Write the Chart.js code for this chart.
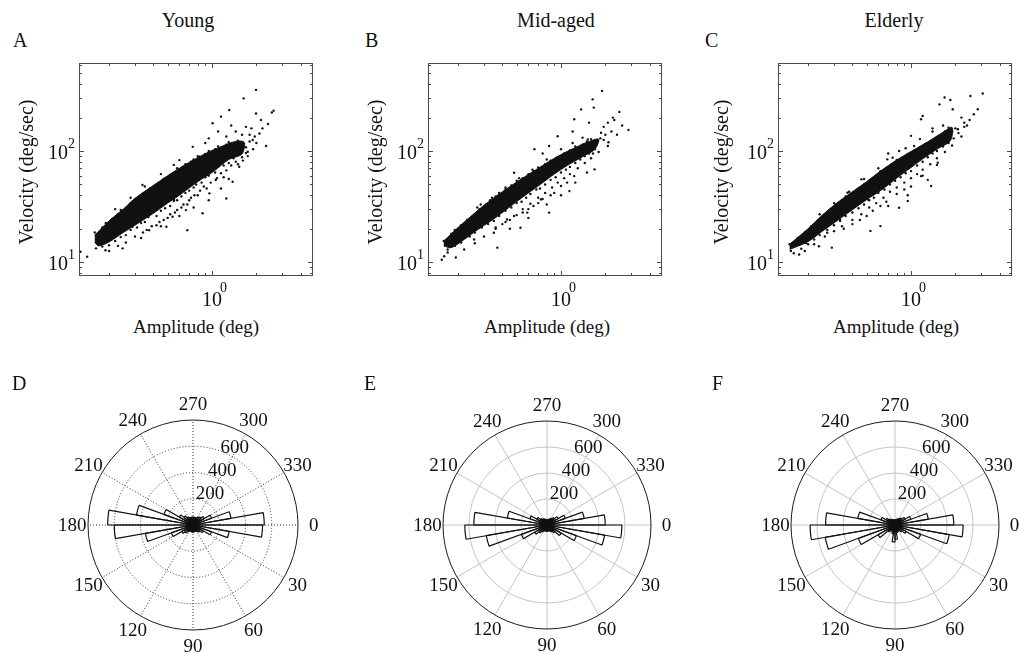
<!DOCTYPE html>
<html>
<head>
<meta charset="utf-8">
<script src="https://cdn.jsdelivr.net/npm/chart.js@4/dist/chart.umd.min.js"></script>
<style>
  html, body { margin: 0; padding: 0; background: #fff; overflow: hidden; }
  #fig { position: relative; width: 1026px; height: 653px; overflow: hidden;
         font-family: "Liberation Serif", "Times New Roman", Times, serif; color: #111; }
  #fig canvas { position: absolute; }
  .lbl { position: absolute; white-space: nowrap; font-size: 20px; line-height: 20px; }
</style>
</head>
<body>
<div id="fig"></div>
<script>
// ---------- saccade main sequence: amplitude (deg) vs peak velocity (deg/sec) ----------
const groups = ['Young', 'Mid-aged', 'Elderly'];
const scatterLetters = ['A', 'B', 'C'];
const roseLetters = ['D', 'E', 'F'];

// dense centre of each cloud (outline: upper edge, then lower edge back)
const youngCoreAmp = [0.16, 0.2, 0.25, 0.3, 0.4, 0.5, 0.6, 0.7, 0.85, 1.0, 1.2, 1.45, 1.65, 1.6, 1.3, 1.0, 0.8, 0.6, 0.5, 0.4, 0.3, 0.25, 0.2, 0.17, 0.16];
const youngCoreVel = [17.5, 23.5, 30, 37.5, 49, 60, 70, 79, 91, 101, 112, 122, 120, 94, 84, 64, 53, 40, 34, 27.5, 21.5, 18.5, 15.2, 14, 15];
const midCoreAmp = [0.16, 0.2, 0.25, 0.3, 0.4, 0.5, 0.6, 0.75, 0.9, 1.1, 1.3, 1.5, 1.8, 1.7, 1.4, 1.1, 0.9, 0.7, 0.55, 0.45, 0.35, 0.27, 0.22, 0.18, 0.16];
const midCoreVel = [15.5, 20.5, 26.5, 32.5, 43, 52.5, 61.5, 74, 86, 99, 110, 120, 128, 104, 89, 74, 62, 48.5, 38.5, 31.5, 24.5, 19.5, 16, 13.5, 14];
const eldCoreAmp = [0.15, 0.2, 0.25, 0.3, 0.37, 0.5, 0.62, 0.8, 1.0, 1.3, 1.6, 1.9, 1.85, 1.5, 1.2, 1.0, 0.8, 0.62, 0.5, 0.37, 0.3, 0.25, 0.2, 0.15];
const eldCoreVel = [14.5, 20, 26.5, 32.5, 40, 53, 66, 83, 99, 121, 144, 163, 124, 104, 85, 71, 57, 44, 36.5, 27.5, 22.5, 19, 15.3, 13];

// individual saccades [amplitude, velocity]
const youngDots = [
  [1.99,355],[1.64,298],[2.62,231],[2.55,222],[1.99,218],[1.31,234],[1.15,204],[1.01,178],[2.15,190],[1.70,165],
  [2.33,111],[1.75,98.6],[2.10,144],[1.25,37.4],[0.68,19.4],[0.405,48.4],[0.337,49.4],[0.74,109],[0.142,11.2],[0.128,12.4],
  [0.163,13.3],[0.171,15.8],[0.189,12.8],[0.247,13.3],[0.60,82.9],[0.82,88.8],[0.863,27.5],[0.665,29.4],[0.54,25.6],[0.49,20.8],
  [0.374,19.4],[0.288,20.8],[1.38,52.9],[1.53,72.2],[1.06,54.8],[0.96,41.6],[0.553,36.2],[0.416,29.4],[1.89,125.6],[1.38,88.9],
  [0.91,72.2],[0.60,58.7],[1.45,150],[1.6,140],[1.85,160],[1.95,135],[2.0,118],[1.25,135],[1.1,150],[0.95,130],
  [0.9,118],[0.55,75],[0.45,62],[0.35,48],[0.28,38],[0.22,30],
  [0.16,18.5],[0.18,20.5],[0.19,22.5],[0.21,24.5],[0.23,27],[0.24,29.5],[0.27,31.5],[0.28,34],[0.32,38],[0.34,41.5],
  [0.36,42],[0.38,46],[0.42,50],[0.45,52],[0.47,56],[0.52,61],[0.55,63],[0.58,70],[0.63,72],[0.66,76],
  [0.72,80],[0.75,84],[0.8,90],[0.9,94],[0.95,100],[1.05,104],[1.1,110],[1.25,114],[1.3,120],[1.5,124],
  [1.55,112],[1.65,116],[1.7,108],[1.8,122],[1.9,104],
  [0.18,13.8],[0.2,14.2],[0.22,15.5],[0.24,16.8],[0.26,17.5],[0.28,19.5],[0.31,20.5],[0.33,22.5],[0.35,23],[0.37,25.5],
  [0.42,26],[0.45,29],[0.48,30.5],[0.52,32],[0.55,35.5],[0.58,36],[0.62,39],[0.66,42],[0.7,44],[0.75,47],
  [0.78,50],[0.85,52],[0.9,58],[0.95,60],[1.05,64],[1.1,72],[1.2,74],[1.3,78],[1.4,86],[1.45,80],
  [1.6,88],[1.7,96],[1.75,90],[0.34,18.5],[0.44,23],[0.56,28],[0.68,33],[0.8,40],[0.92,46],[1.2,58],
  [0.39,21],[0.62,31],[0.5,25],[0.72,38],
  [0.3,17],[0.36,19.5],[0.42,21.5],[0.47,24],[0.52,27],[0.58,29.5],[0.64,33],[0.7,36],[0.76,40],[0.83,44],
  [0.88,48],[0.98,52],[1.08,57],[1.15,63],[1.25,67],[1.35,74],[1.5,76],[1.62,82],[0.26,15],[0.23,14],
  [0.2,12.6],[0.33,16.5],[0.45,21],[0.6,26],[0.75,31],[0.95,36],[1.15,46],[1.3,56],[1.8,140],[2.2,160],
  [2.4,175],[1.35,170]
];
const midDots = [
  [1.90,347],[1.64,292],[1.67,246],[2.49,225],[2.87,155],[1.37,237],[1.23,193],[0.95,136],[0.66,104],[0.83,111],
  [1.69,68.4],[1.23,59.5],[1.14,43.6],[0.83,27.9],[0.53,20.4],[0.37,13.5],[0.285,33],[0.161,11.3],[0.193,11],[0.17,12.2],
  [2.25,200],[2.08,180],[1.87,146],[1.52,127],[1.0,48.4],[0.73,36.7],[0.59,27.9],[0.43,24.2],[0.35,18.4],[0.257,16],
  [0.22,18.4],[0.53,48.4],[0.48,63.8],[0.37,39.3],[0.9,73.2],[1.37,90.2],[2.08,111],[1.55,180],[1.2,150],[0.75,95],
  [1.65,95],[2.3,190],[1.95,165],[0.155,10.5],
  [0.16,15.5],[0.18,18],[0.19,19.5],[0.21,21.5],[0.23,24],[0.26,27],[0.28,30],[0.31,33],[0.33,36],[0.36,39],
  [0.38,42],[0.42,45],[0.46,49],[0.5,54],[0.55,57],[0.6,62],[0.65,66],[0.7,71],[0.78,76],[0.85,82],
  [0.95,88],[1.05,95],[1.15,101],[1.25,110],[1.4,114],[1.5,122],[1.6,128],[1.75,120],[1.85,130],[2.0,140],
  [2.2,150],[1.95,126],
  [0.17,13],[0.19,14],[0.21,15],[0.24,17],[0.26,18.5],[0.29,20.5],[0.32,22],[0.35,23.5],[0.38,26],[0.42,29],
  [0.46,31],[0.5,34],[0.54,35],[0.58,38],[0.62,41],[0.68,45],[0.72,46],[0.78,50],[0.85,55],[0.92,58],
  [1.0,64],[1.08,68],[1.15,72],[1.25,78],[1.35,84],[1.45,90],[1.55,95],[1.7,104],[0.36,20],[0.45,24],
  [0.55,28],[0.65,32],[0.75,37],[0.9,42],[1.1,52],[0.4,22],[0.6,30],[0.5,26.5],[0.85,40],[0.7,34],
  [0.3,17],[0.36,20.5],[0.42,23],[0.48,26],[0.55,30],[0.62,33.5],[0.7,38],[0.78,42],[0.87,47],[0.95,52],
  [1.05,57],[1.15,62],[1.3,70],[1.45,78],[1.6,86],[1.8,98],[0.26,14.8],[0.22,13],[0.45,20],[0.6,25],
  [0.8,33],[1.0,40],[1.25,52],[1.5,64],[0.27,31],[0.34,38],[0.42,47],[0.52,57],[0.64,68],[0.8,84],
  [1.0,104],[1.2,118],[1.4,132],[2.1,120],[2.4,140],[2.6,170]
];
const eldDots = [
  [3.07,329],[2.53,313],[1.69,303],[1.85,288],[1.56,263],[1.92,238],[2.84,238],[2.67,214],[1.20,207],[1.17,193],
  [1.0,137],[0.83,100],[1.52,78.6],[0.95,35.5],[0.83,30.9],[0.62,21.1],[0.53,19.1],[0.29,13.5],[0.237,13.9],[0.153,12.6],
  [0.174,11.7],[0.194,14.9],[2.08,157],[2.30,180],[1.44,107],[1.05,84],[0.77,64],[0.62,48.4],[0.51,36.7],[0.41,32],
  [0.33,24.2],[0.27,18.4],[0.37,42.2],[0.46,55.6],[0.69,84.2],[1.05,111],[1.78,127],[1.37,48.4],[1.17,59.5],[2.2,200],
  [1.4,160],[0.7,95],[2.4,170],
  [0.15,14.5],[0.17,16.5],[0.19,18.5],[0.21,21],[0.23,23.5],[0.26,27],[0.28,29.5],[0.31,33],[0.34,36],[0.36,39],
  [0.4,42],[0.44,46],[0.48,50],[0.52,54],[0.57,59],[0.62,66],[0.68,70],[0.74,76],[0.8,83],[0.88,88],
  [0.95,94],[1.05,100],[1.15,108],[1.25,116],[1.35,122],[1.45,130],[1.55,136],[1.7,150],[1.8,162],[1.9,150],
  [2.0,160],[2.1,145],[1.75,138],
  [0.16,12],[0.18,13.2],[0.2,14.5],[0.22,16],[0.24,17.5],[0.27,19.5],[0.3,21.5],[0.33,23.5],[0.36,26],[0.4,28],
  [0.44,30.5],[0.48,33],[0.52,36],[0.56,38],[0.6,42],[0.66,45],[0.72,50],[0.78,54],[0.85,58],[0.92,63],
  [1.0,66],[1.1,74],[1.2,80],[1.3,88],[1.4,95],[1.5,100],[1.65,110],[1.8,118],[1.95,130],[0.35,20],
  [0.45,24],[0.55,29],[0.68,35],[0.8,41],[1.0,48],[1.2,60],[0.4,22],[0.62,32],[0.9,45],[1.5,75],
  [0.26,17],[0.3,19],[0.34,21],[0.4,24],[0.46,27],[0.52,31],[0.58,34],[0.65,38],[0.72,43],[0.8,47],
  [0.9,52],[1.0,57],[1.1,62],[1.2,68],[1.35,76],[1.5,86],[1.7,98],[1.9,112],[0.22,14.5],[0.19,12.6],
  [0.5,26],[0.7,32],[0.95,40],[1.3,55],[0.24,27],[0.3,34],[0.38,43],[0.48,56],[0.6,70],[0.75,87],
  [0.92,106],[1.15,128],[1.4,150],[1.65,170],[2.3,165],[2.5,190],[2.2,135]
];

// log axis limits and ticks
const ampRange = [0.125, 4.85];
const velRange = [7.5, 620];
const ampMajor = [1];
const ampMinor = [0.2, 0.3, 0.4, 0.5, 0.6, 0.7, 0.8, 0.9, 2, 3, 4];
const velMajor = [10, 100];
const velMinor = [8, 9, 20, 30, 40, 50, 60, 70, 80, 90, 200, 300, 400, 500, 600];

// ---------- saccade direction histograms (counts per 10 deg bin) ----------
const binStarts = [0,10,20,30,40,50,60,70,80,90,100,110,120,130,140,150,160,170,180,190,200,210,220,230,240,250,260,270,280,290,300,310,320,330,340,350];
const youngDir = [530,280,150,90,70,60,50,50,55,55,50,50,60,80,100,175,368,600,650,437,236,120,90,70,60,60,60,60,60,60,70,80,100,150,294,543];
const midDir   = [576,450,240,125,80,60,50,45,50,50,45,50,60,80,110,210,474,632,563,310,140,90,65,55,50,45,40,40,45,50,60,75,100,150,290,448];
const eldDir   = [524,423,210,100,70,55,50,60,110,130,70,50,55,70,150,300,545,653,534,290,115,80,60,50,45,40,40,40,45,50,60,70,90,130,260,452];
const roseMax = 800;
const ringTicks = [200, 400, 600];
const spokeAngles = [0, 30, 60, 90, 120, 150, 180, 210, 240, 270, 300, 330];

const FONT = '"Liberation Serif", "Times New Roman", Times, serif';
const fig = document.getElementById('fig');

function addLabel(text, x, baseline, opts = {}) {
  const d = document.createElement('div');
  d.className = 'lbl';
  d.textContent = text;
  const size = opts.size || 20;
  d.style.fontSize = size + 'px';
  d.style.lineHeight = size + 'px';
  d.style.left = x + 'px';
  if (opts.rotate) {
    d.style.top = baseline + 'px';
    d.style.transform = 'translate(-50%, -50%) rotate(-90deg)';
  } else {
    d.style.top = (baseline - 0.8375 * size) + 'px';
    if (opts.center) d.style.transform = 'translateX(-50%)';
  }
  fig.appendChild(d);
}

function addCanvas(left, top, w, h) {
  const c = document.createElement('canvas');
  c.width = w; c.height = h;
  c.style.left = left + 'px'; c.style.top = top + 'px';
  c.style.width = w + 'px'; c.style.height = h + 'px';
  fig.appendChild(c);
  return c;
}

// frame, inward ticks and power-of-ten labels of a log-log panel
const logFrame = {
  id: 'logFrame',
  afterDatasetsDraw(chart) {
    const { ctx, chartArea: a, scales: { x, y } } = chart;
    ctx.save();
    ctx.strokeStyle = '#4a4a4a';
    ctx.lineWidth = 1;
    ctx.strokeRect(a.left + 0.5, a.top + 0.5, a.right - a.left - 1, a.bottom - a.top - 1);
    ctx.beginPath();
    ampMinor.concat(ampMajor).forEach(v => {
      const px = Math.round(x.getPixelForValue(v)) + 0.5;
      const len = ampMajor.includes(v) ? 5 : 3;
      ctx.moveTo(px, a.bottom); ctx.lineTo(px, a.bottom - len);
      ctx.moveTo(px, a.top); ctx.lineTo(px, a.top + len);
    });
    velMinor.concat(velMajor).forEach(v => {
      const py = Math.round(y.getPixelForValue(v)) + 0.5;
      const len = velMajor.includes(v) ? 5 : 3;
      ctx.moveTo(a.left, py); ctx.lineTo(a.left + len, py);
      ctx.moveTo(a.right, py); ctx.lineTo(a.right - len, py);
    });
    ctx.stroke();
    ctx.fillStyle = '#111';
    ctx.textBaseline = 'alphabetic';
    ampMajor.forEach(v => {
      const px = x.getPixelForValue(v);
      ctx.textAlign = 'left';
      ctx.font = '20px ' + FONT;
      ctx.fillText('10', px - 10, a.bottom + 30);
      ctx.font = '14px ' + FONT;
      ctx.fillText(String(Math.round(Math.log10(v))), px + 8, a.bottom + 16);
    });
    velMajor.forEach(v => {
      const py = y.getPixelForValue(v);
      ctx.font = '20px ' + FONT;
      ctx.textAlign = 'right';
      ctx.fillText('10', a.left - 11, py + 8);
      ctx.font = '14px ' + FONT;
      ctx.textAlign = 'left';
      ctx.fillText(String(Math.round(Math.log10(v))), a.left - 11, py - 3);
    });
    ctx.restore();
  }
};

// polar grid, angle labels and ring labels of a rose panel
const roseFrame = {
  id: 'roseFrame',
  beforeDatasetsDraw(chart, args, opts) {
    const r = chart.scales.r, ctx = chart.ctx;
    const cx = r.xCenter, cy = r.yCenter;
    const R = r.getDistanceFromCenterForValue(roseMax);
    ctx.save();
    ctx.lineWidth = 1;
    ctx.strokeStyle = opts.gridColor;
    ctx.setLineDash(opts.dash);
    ringTicks.forEach(v => {
      ctx.beginPath();
      ctx.arc(cx, cy, r.getDistanceFromCenterForValue(v), 0, 2 * Math.PI);
      ctx.stroke();
    });
    spokeAngles.forEach(deg => {
      const t = deg * Math.PI / 180;
      ctx.beginPath();
      ctx.moveTo(cx, cy);
      ctx.lineTo(cx + R * Math.cos(t), cy + R * Math.sin(t));
      ctx.stroke();
    });
    ctx.setLineDash([]);
    ctx.strokeStyle = '#1a1a1a';
    ctx.beginPath();
    ctx.arc(cx, cy, R, 0, 2 * Math.PI);
    ctx.stroke();
    ctx.restore();
  },
  afterDatasetsDraw(chart) {
    const r = chart.scales.r, ctx = chart.ctx;
    const cx = r.xCenter, cy = r.yCenter;
    const R = r.getDistanceFromCenterForValue(roseMax);
    ctx.save();
    ctx.fillStyle = '#111';
    ctx.font = '19px ' + FONT;
    ctx.textAlign = 'center';
    ctx.textBaseline = 'middle';
    spokeAngles.forEach(deg => {
      const t = deg * Math.PI / 180;
      ctx.fillText(String(deg), cx + 1.15 * R * Math.cos(t), cy + 1.15 * R * Math.sin(t) + 1);
    });
    const la = 62 * Math.PI / 180;
    ringTicks.forEach(v => {
      const d = r.getDistanceFromCenterForValue(v) + 10;
      ctx.fillText(String(v), cx + d * Math.cos(la), cy - d * Math.sin(la) + 1);
    });
    ctx.restore();
  }
};

// ---------- top row: scatter panels ----------
const scatterBoxes = [
  { left: 79, top: 63, w: 234, h: 213, title: 188, letter: 13, ylab: 26, xlab: 196 },
  { left: 428, top: 63, w: 234, h: 213, title: 556, letter: 365, ylab: 375, xlab: 547 },
  { left: 778, top: 63, w: 234, h: 213, title: 894, letter: 705, ylab: 721, xlab: 896 }
];
const cores = [[youngCoreAmp, youngCoreVel], [midCoreAmp, midCoreVel], [eldCoreAmp, eldCoreVel]];
const dotSets = [youngDots, midDots, eldDots];

scatterBoxes.forEach((b, i) => {
  const pad = { left: 50, right: 10, top: 10, bottom: 40 };
  const cv = addCanvas(b.left - pad.left, b.top - pad.top, b.w + pad.left + pad.right, b.h + pad.top + pad.bottom);
  const [ca, cvel] = cores[i];
  new Chart(cv, {
    type: 'scatter',
    data: {
      datasets: [
        {
          type: 'line', order: 2,
          data: ca.map((a, k) => ({ x: a, y: cvel[k] })),
          showLine: true, fill: 'shape', tension: 0.3,
          borderColor: '#111', backgroundColor: '#111', borderWidth: 1,
          pointRadius: 0
        },
        {
          order: 1,
          data: dotSets[i].map(p => ({ x: p[0], y: p[1] })),
          pointRadius: 1.2, pointBorderWidth: 0,
          backgroundColor: '#111', borderColor: '#111'
        }
      ]
    },
    options: {
      responsive: false, animation: false, devicePixelRatio: 1,
      layout: { padding: pad },
      plugins: { legend: { display: false }, tooltip: { enabled: false } },
      events: [],
      scales: {
        x: { type: 'logarithmic', min: ampRange[0], max: ampRange[1], display: false },
        y: { type: 'logarithmic', min: velRange[0], max: velRange[1], display: false }
      }
    },
    plugins: [logFrame]
  });
  addLabel(groups[i], b.title, 27, { center: true });
  addLabel(scatterLetters[i], b.letter, 46.5);
  addLabel('Amplitude (deg)', b.xlab, 333, { center: true, size: 19 });
  addLabel('Velocity (deg/sec)', b.ylab, 172, { rotate: true });
});

// ---------- bottom row: rose panels ----------
const roseCentres = [
  { cx: 193, cy: 525, R: 105, letter: 12 },
  { cx: 547, cy: 525, R: 104, letter: 364 },
  { cx: 895, cy: 525, R: 104, letter: 712 }
];
const dirSets = [youngDir, midDir, eldDir];
const gridStyles = [
  { gridColor: '#333', dash: [1, 2] },
  { gridColor: '#c4c4c4', dash: [] },
  { gridColor: '#c4c4c4', dash: [] }
];

roseCentres.forEach((p, i) => {
  const size = 300;
  const padAll = size / 2 - p.R;
  const cv = addCanvas(p.cx - size / 2, p.cy - size / 2, size, size);
  new Chart(cv, {
    type: 'polarArea',
    data: {
      labels: binStarts.map(String),
      datasets: [{
        data: dirSets[i],
        backgroundColor: 'rgba(255,255,255,0)',
        borderColor: '#111',
        borderWidth: 1.2
      }]
    },
    options: {
      responsive: false, animation: false, devicePixelRatio: 1,
      layout: { padding: padAll },
      events: [],
      plugins: { legend: { display: false }, tooltip: { enabled: false }, roseFrame: gridStyles[i] },
      scales: {
        r: {
          min: 0, max: roseMax, startAngle: 90,
          ticks: { display: false },
          grid: { display: false },
          angleLines: { display: false },
          pointLabels: { display: false }
        }
      }
    },
    plugins: [roseFrame]
  });
  addLabel(roseLetters[i], p.letter, 390);
});
</script>
</body>
</html>
